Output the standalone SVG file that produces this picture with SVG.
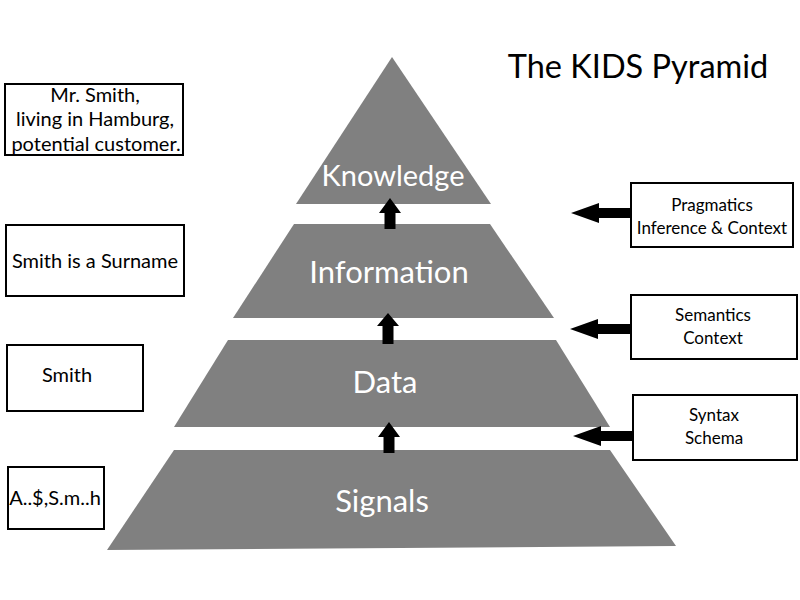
<svg xmlns="http://www.w3.org/2000/svg" width="800" height="600" viewBox="0 0 800 600">
<defs>
<style>
.layer{fill:#808080;}
.lbl{fill:#ffffff;font-family:Lato,"Liberation Sans",sans-serif;font-size:31px;text-anchor:middle;}
.box{fill:#ffffff;stroke:#000000;stroke-width:2;}
.txt{fill:#000000;font-family:Lato,"Liberation Sans",sans-serif;text-anchor:middle;}
.l{font-size:20px;}
.r{font-size:17px;}
.arrow{fill:#000000;}
</style>
</defs>
<rect width="800" height="600" fill="#ffffff"/>
<text x="638" y="78" class="txt" style="font-size:32.5px">The KIDS Pyramid</text>

<g id="knowledge">
<polygon class="layer" points="392,57 491,204 296,204"/>
<text x="393" y="186" class="lbl" style="font-size:29px">Knowledge</text>
</g>
<g id="information">
<polygon class="layer" points="294,224 490,224 554,318 233,318"/>
<text x="389" y="283" class="lbl">Information</text>
</g>
<g id="data">
<polygon class="layer" points="228,340 556,340 610,427 174,427"/>
<text x="385" y="393" class="lbl">Data</text>
</g>
<g id="signals">
<polygon class="layer" points="174,450 610,450 676,546 107,550"/>
<text x="382" y="512" class="lbl">Signals</text>
</g>

<g id="box-mr-smith">
<rect class="box" x="5" y="84" width="178" height="71"/>
<text class="txt l" x="95" y="102">Mr. Smith,</text>
<text class="txt l" x="95" y="126">living in Hamburg,</text>
<text class="txt l" x="96" y="151">potential customer.</text>
</g>
<g id="box-surname">
<rect class="box" x="6" y="225" width="178" height="71"/>
<text class="txt l" x="95" y="268">Smith is a Surname</text>
</g>
<g id="box-smith">
<rect class="box" x="7" y="345" width="136" height="66"/>
<text class="txt l" x="67" y="382">Smith</text>
</g>
<g id="box-signal">
<rect class="box" x="8" y="467" width="96" height="62"/>
<text class="txt l" x="55" y="505">A..$,S.m..h</text>
</g>

<g id="box-pragmatics">
<rect class="box" x="631" y="183" width="162" height="64"/>
<text class="txt r" x="712" y="211">Pragmatics</text>
<text class="txt r" x="712" y="234">Inference &amp; Context</text>
</g>
<g id="box-semantics">
<rect class="box" x="631" y="295" width="166" height="64"/>
<text class="txt r" x="713" y="321">Semantics</text>
<text class="txt r" x="713" y="344">Context</text>
</g>
<g id="box-syntax">
<rect class="box" x="633" y="395" width="164" height="65"/>
<text class="txt r" x="714" y="421">Syntax</text>
<text class="txt r" x="714" y="444">Schema</text>
</g>

<g id="connectors">
<polygon class="arrow" points="390,198 401,213 395.5,213 395.5,229 384.5,229 384.5,213 379,213"/>
<polygon class="arrow" points="388,313 399,326 393.5,326 393.5,344 382.5,344 382.5,326 377,326"/>
<polygon class="arrow" points="389,422 400,437 394.5,437 394.5,453 383.5,453 383.5,437 378,437"/>
<polygon class="arrow" points="571,213 599,203 599,208 632,208 632,218 599,218 599,223"/>
<polygon class="arrow" points="570,329 598,319 598,324 632,324 632,334 598,334 598,339"/>
<polygon class="arrow" points="573,436 601,426 601,431 633,431 633,441 601,441 601,446"/>
</g>
</svg>
